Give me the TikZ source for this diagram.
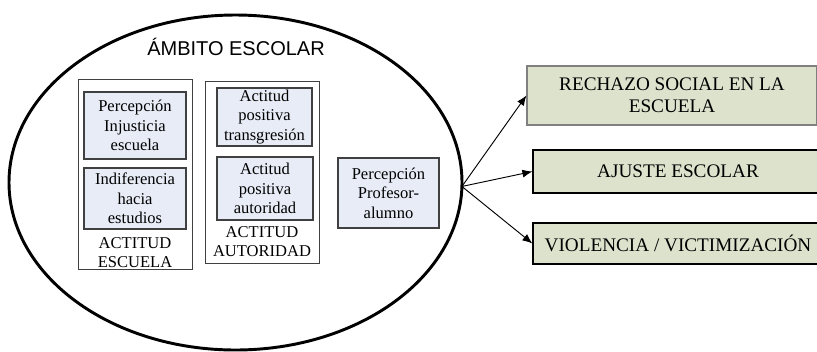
\documentclass[tikz,border=0pt]{standalone}
\usepackage{fontspec}
\setmainfont{Liberation Serif}
\newfontfamily\bodyfont{Liberation Serif}
\newfontfamily\titlefont{Liberation Sans}
\usetikzlibrary{shapes.geometric,arrows.meta}
\definecolor{factorfill}{RGB}{231,236,246}
\definecolor{outcomefill}{RGB}{221,226,205}
\definecolor{boxline}{RGB}{64,64,64}
\begin{document}
\begin{tikzpicture}[x=0.75pt,y=-0.75pt,
  factor/.style={draw=boxline,line width=0.8pt,fill=factorfill,inner sep=0pt,
    align=center,font=\bodyfont\fontsize{12.4}{14.6}\selectfont},
  group/.style={draw=boxline,line width=0.75pt,inner sep=0pt},
  grouplabel/.style={align=center,inner sep=0pt,font=\bodyfont\fontsize{12.4}{14.2}\selectfont},
  outcome/.style={draw,line width=0.9pt,fill=outcomefill,inner sep=0pt,
    align=center,font=\bodyfont\fontsize{14.4}{16.5}\selectfont},
  link/.style={line width=0.7pt,-{Latex[length=7.5pt,width=6pt]}}]
\useasboundingbox (0,0) rectangle (817,351);
\begin{scope}
\clip (0,0) rectangle (817,351);

% school environment
\node[ellipse,draw,line width=2.2pt,inner sep=0pt,outer sep=0pt,
  minimum width=339.75pt,minimum height=251.25pt] (ambito) at (235.5,182.5) {};
\node[font=\titlefont\fontsize{15}{18}\selectfont,anchor=base,inner sep=0pt]
  (titulo) at (236,55) {ÁMBITO ESCOLAR};

% attitude towards school
\node[group,minimum width=85.5pt,minimum height=142.5pt] (escuela) at (135,174) {};
\node[factor,minimum width=76.5pt,minimum height=50.25pt] (injusticia) at (135,125.5)
  {Percepción\\Injusticia\\escuela};
\node[factor,minimum width=76.5pt,minimum height=45.75pt] (indiferencia) at (135,198.5)
  {Indiferencia\\hacia\\estudios};
\node[grouplabel] (lescuela) at (135,253) {ACTITUD\\ESCUELA};

% attitude towards authority
\node[group,minimum width=85.5pt,minimum height=136.5pt] (autoridad) at (262,172) {};
\node[factor,minimum width=71.25pt,minimum height=43.5pt] (transgresion) at (264.5,117)
  {Actitud\\positiva\\transgresión};
\node[factor,minimum width=72pt,minimum height=47.25pt] (positiva) at (265,188.5)
  {Actitud\\positiva\\autoridad};
\node[grouplabel] (lautoridad) at (262,241.5) {ACTITUD\\AUTORIDAD};

% teacher-student relationship
\node[factor,minimum width=75.75pt,minimum height=52.5pt] (profesor) at (388.5,193)
  {Percepción\\Profesor-\\alumno};

% outcomes
\node[outcome,draw=gray,minimum width=217.5pt,minimum height=44.25pt] (rechazo) at (672,95.5)
  {RECHAZO SOCIAL EN LA\\ESCUELA};
\node[outcome,minimum width=217.5pt,minimum height=32.25pt] (ajuste) at (678,171.5)
  {AJUSTE ESCOLAR};
\node[outcome,minimum width=217.5pt,minimum height=30.75pt] (violencia) at (678,243.5)
  {VIOLENCIA / VICTIMIZACIÓN};

\draw[link] (ambito.-1.5) -- (rechazo.west);
\draw[link] (ambito.-1.5) -- (ajuste.west);
\draw[link] (ambito.-1.5) -- (violencia.west);
\end{scope}
\end{tikzpicture}
\end{document}
